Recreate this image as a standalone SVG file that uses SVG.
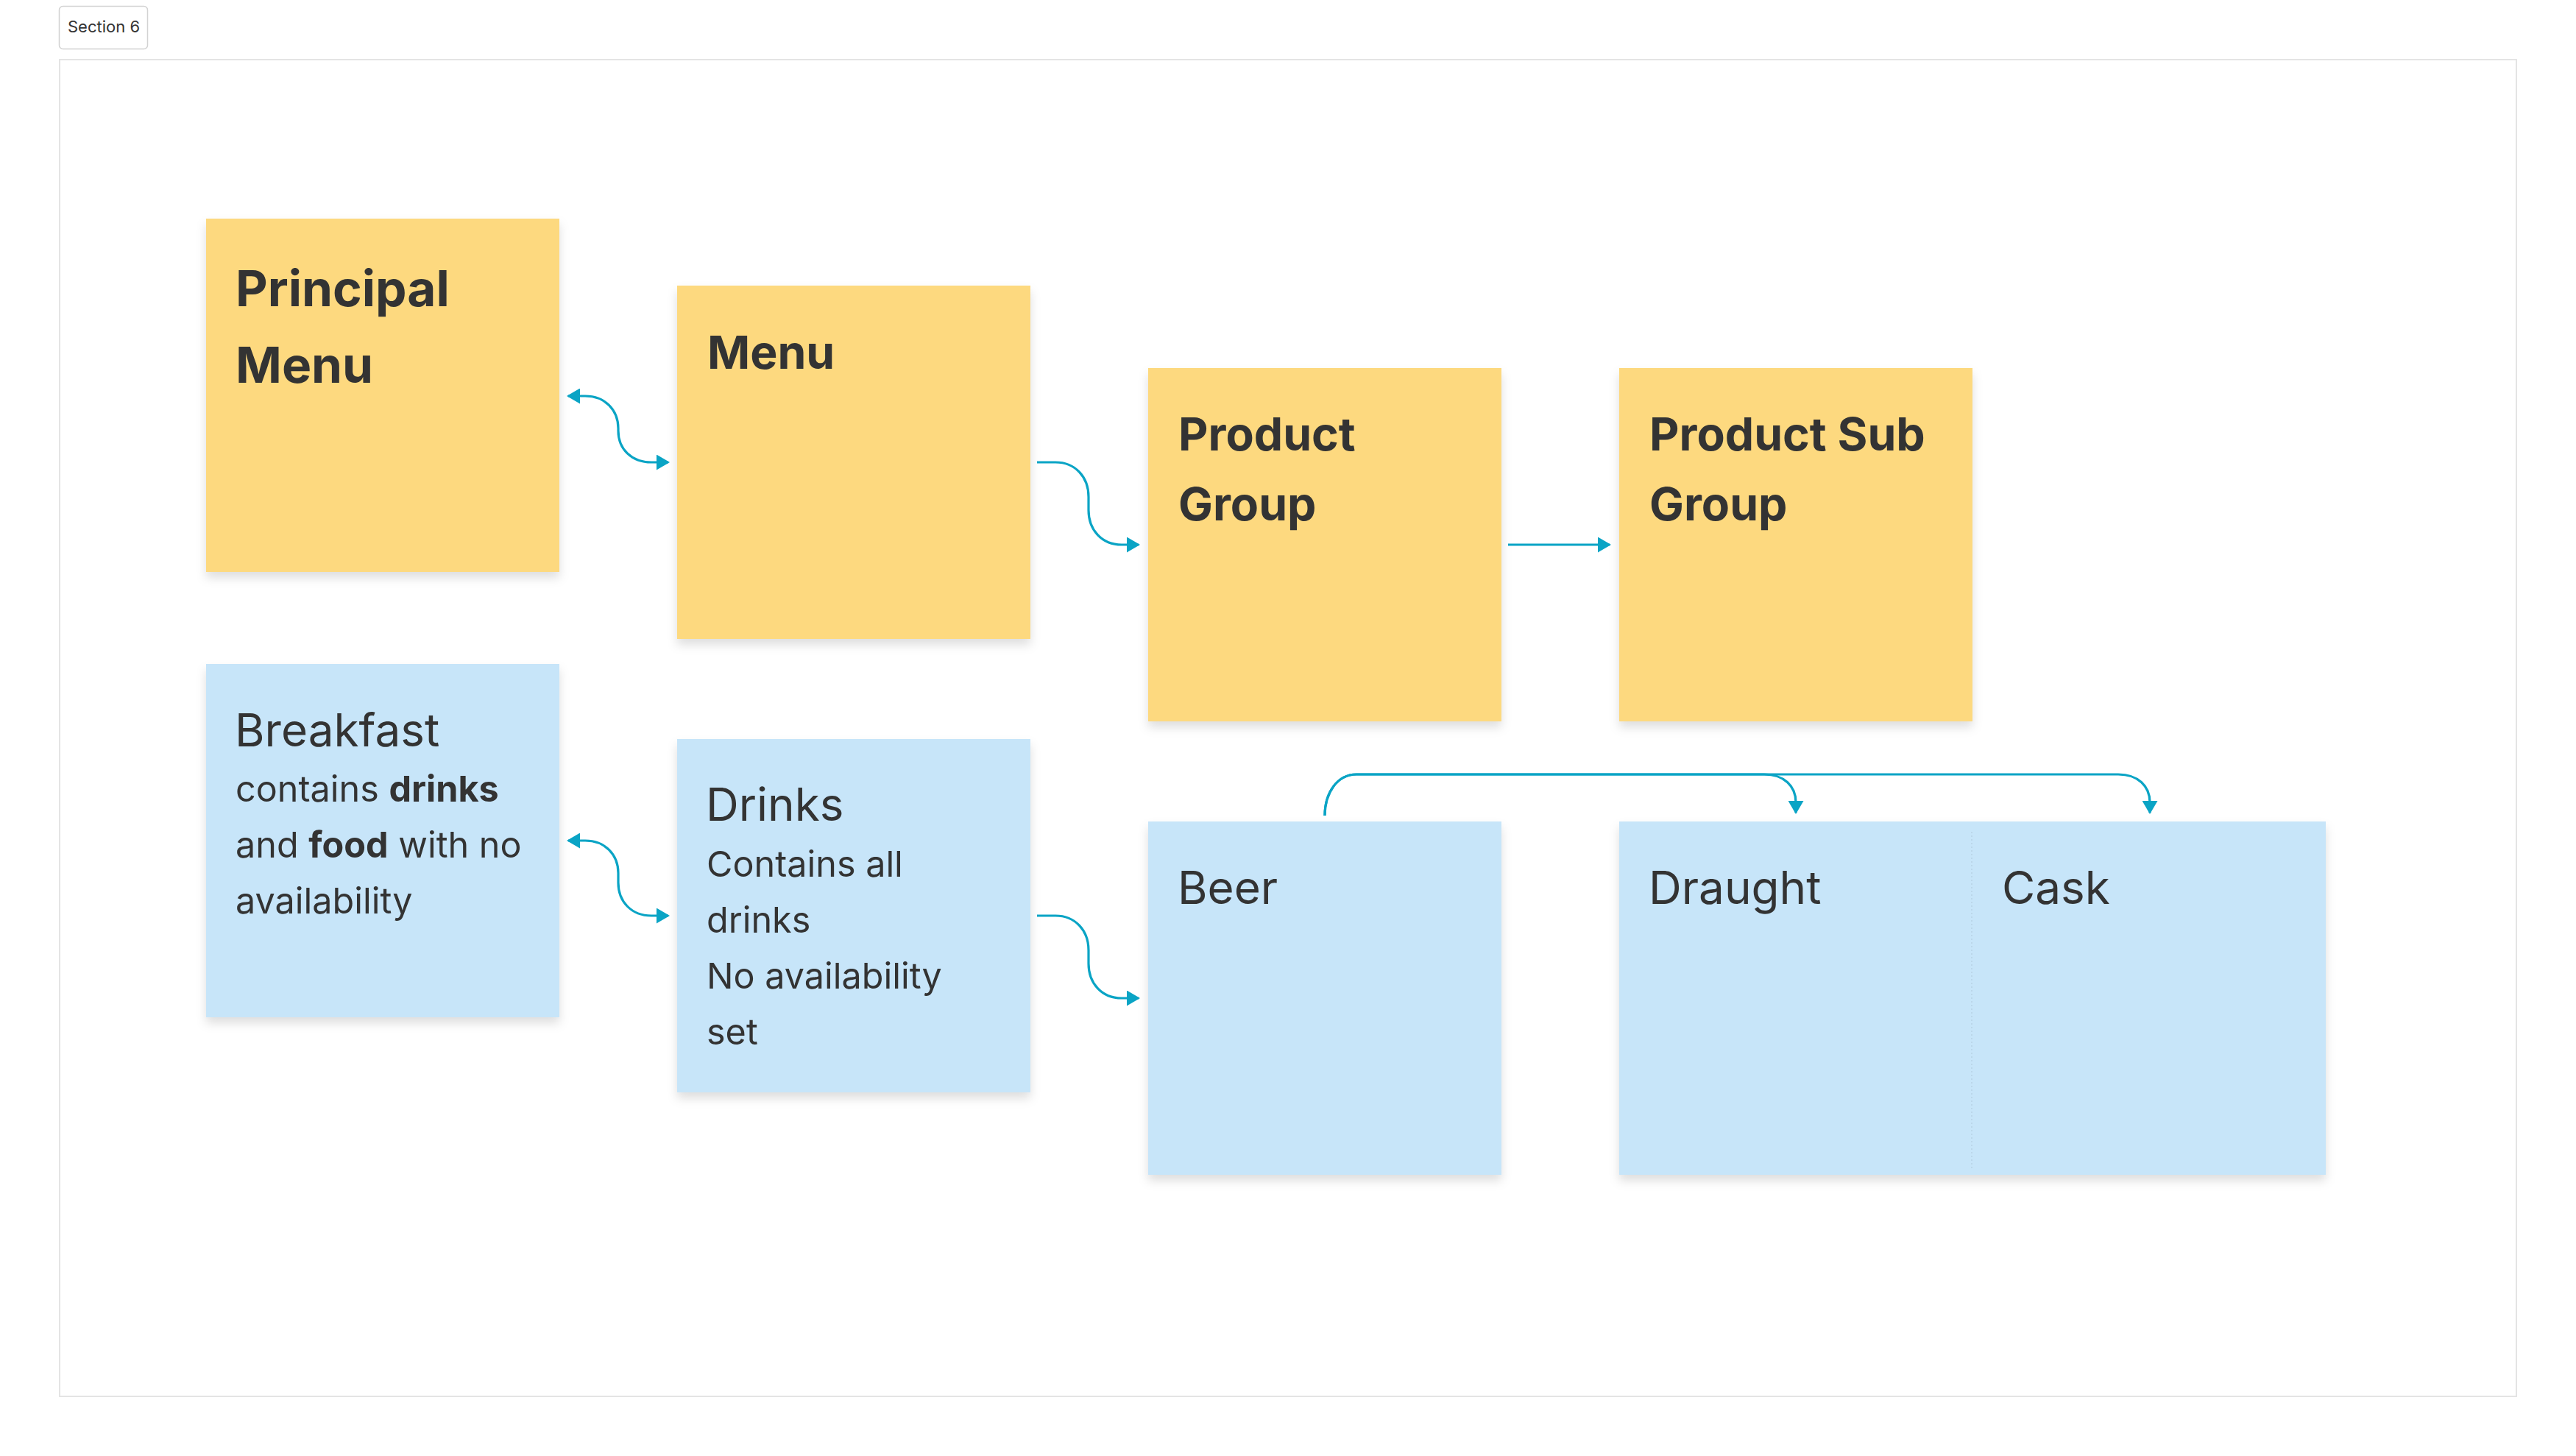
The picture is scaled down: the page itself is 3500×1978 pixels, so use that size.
<svg xmlns="http://www.w3.org/2000/svg" width="3500" height="1978" viewBox="0 0 3500 1978">
  <style>
    .frame { fill: #ffffff; stroke: #e4e4e4; stroke-width: 2; }
    .label-box { fill: #ffffff; stroke: #d2d2d2; stroke-width: 1.5; }
    .label { font-family: Inter, "Liberation Sans", sans-serif; font-size: 22px; fill: #333333; }
    .yellow { fill: #fdd97f; }
    .blue { fill: #c7e5f9; }
    .shadow { fill: #ffffff; filter: url(#soft); }
    .txt { font-family: Inter, "Liberation Sans", sans-serif; fill: #333333; }
    .head-b { font-size: 62.5px; font-weight: 700; }
    .head-xl { font-size: 67.5px; font-weight: 700; }
    .head-r { font-size: 62px; font-weight: 400; }
    .body { font-size: 48.5px; font-weight: 400; }
    .b { font-weight: 700; }
    .conn { fill: none; stroke: #0aa4c5; stroke-width: 3.2; }
    .divider { stroke: #9fb7c7; stroke-width: 1; stroke-dasharray: 2 3; opacity: 0.6; }
  </style>
  <defs>
    <filter id="soft" x="-10%" y="-10%" width="120%" height="125%">
      <feDropShadow dx="0" dy="8" stdDeviation="7" flood-color="#000000" flood-opacity="0.13"/>
    </filter>
    <marker id="arrow" viewBox="0 0 18 21" refX="16" refY="10.5" markerWidth="18" markerHeight="21" markerUnits="userSpaceOnUse" orient="auto-start-reverse">
      <path d="M0,0 L18,10.5 L0,21 z" fill="#0aa4c5"/>
    </marker>
  </defs>

  <rect width="3500" height="1978" fill="#ffffff"/>

  <g id="section">
    <rect class="frame" x="81" y="81" width="3338" height="1816"/>
    <rect class="label-box" x="80.5" y="8.5" width="120" height="58" rx="5"/>
    <text class="label" x="92" y="44">Section 6</text>
  </g>

  <g id="shadows">
    <rect class="shadow" x="280" y="297" width="480" height="480"/>
    <rect class="shadow" x="920" y="388" width="480" height="480"/>
    <rect class="shadow" x="1560" y="500" width="480" height="480"/>
    <rect class="shadow" x="2200" y="500" width="480" height="480"/>
    <rect class="shadow" x="280" y="902" width="480" height="480"/>
    <rect class="shadow" x="920" y="1004" width="480" height="480"/>
    <rect class="shadow" x="1560" y="1116" width="480" height="480"/>
    <rect class="shadow" x="2200" y="1116" width="960" height="480"/>
  </g>

  <g id="principal-menu">
    <rect class="yellow" x="280" y="297" width="480" height="480"/>
    <text class="txt head-xl" x="320" y="416">Principal</text>
    <text class="txt head-xl" x="320" y="520">Menu</text>
  </g>

  <g id="menu">
    <rect class="yellow" x="920" y="388" width="480" height="480"/>
    <text class="txt head-b" x="961" y="501">Menu</text>
  </g>

  <g id="product-group">
    <rect class="yellow" x="1560" y="500" width="480" height="480"/>
    <text class="txt head-b" x="1601" y="612">Product</text>
    <text class="txt head-b" x="1601" y="707">Group</text>
  </g>

  <g id="product-sub-group">
    <rect class="yellow" x="2200" y="500" width="480" height="480"/>
    <text class="txt head-b" x="2241" y="612">Product Sub</text>
    <text class="txt head-b" x="2241" y="707">Group</text>
  </g>

  <g id="breakfast">
    <rect class="blue" x="280" y="902" width="480" height="480"/>
    <text class="txt head-r" x="319" y="1014">Breakfast</text>
    <text class="txt body" x="320" y="1089">contains <tspan class="b">drinks</tspan></text>
    <text class="txt body" x="320" y="1165">and <tspan class="b">food</tspan> with no</text>
    <text class="txt body" x="320" y="1241">availability</text>
  </g>

  <g id="drinks">
    <rect class="blue" x="920" y="1004" width="480" height="480"/>
    <text class="txt head-r" x="959" y="1115">Drinks</text>
    <text class="txt body" x="960" y="1191">Contains all</text>
    <text class="txt body" x="960" y="1267">drinks</text>
    <text class="txt body" x="960" y="1343">No availability</text>
    <text class="txt body" x="960" y="1419">set</text>
  </g>

  <g id="beer">
    <rect class="blue" x="1560" y="1116" width="480" height="480"/>
    <text class="txt head-r" x="1600" y="1228">Beer</text>
  </g>

  <g id="draught">
    <rect class="blue" x="2200" y="1116" width="480" height="480"/>
    <text class="txt head-r" x="2240" y="1228">Draught</text>
  </g>

  <g id="cask">
    <rect class="blue" x="2680" y="1116" width="480" height="480"/>
    <line class="divider" x1="2679" y1="1130" x2="2679" y2="1590"/>
    <text class="txt head-r" x="2720" y="1228">Cask</text>
  </g>

  <g id="connectors">
    <path class="conn" d="M772,538 H795 C822,538 840,557 840,582 V585 C840,610 858,628 885,628 H908" marker-start="url(#arrow)" marker-end="url(#arrow)"/>
    <path class="conn" d="M1409,628 H1434 C1461,628 1479,648 1479,675 V693 C1479,720 1497,740 1524,740 H1547" marker-end="url(#arrow)"/>
    <path class="conn" d="M2049,740 H2187" marker-end="url(#arrow)"/>
    <path class="conn" d="M772,1142 H795 C822,1142 840,1161 840,1186 V1199 C840,1225 858,1244 885,1244 H908" marker-start="url(#arrow)" marker-end="url(#arrow)"/>
    <path class="conn" d="M1409,1244 H1434 C1461,1244 1479,1264 1479,1291 V1309 C1479,1336 1497,1356 1524,1356 H1547" marker-end="url(#arrow)"/>
    <path class="conn" d="M1800,1108 C1800,1077 1817,1052 1843,1052 H2397 C2424,1052 2440,1068 2440,1090 V1104" marker-end="url(#arrow)"/>
    <path class="conn" d="M1800,1108 C1800,1077 1817,1052 1843,1052 H2878 C2905,1052 2921,1068 2921,1090 V1104" marker-end="url(#arrow)"/>
  </g>
</svg>
